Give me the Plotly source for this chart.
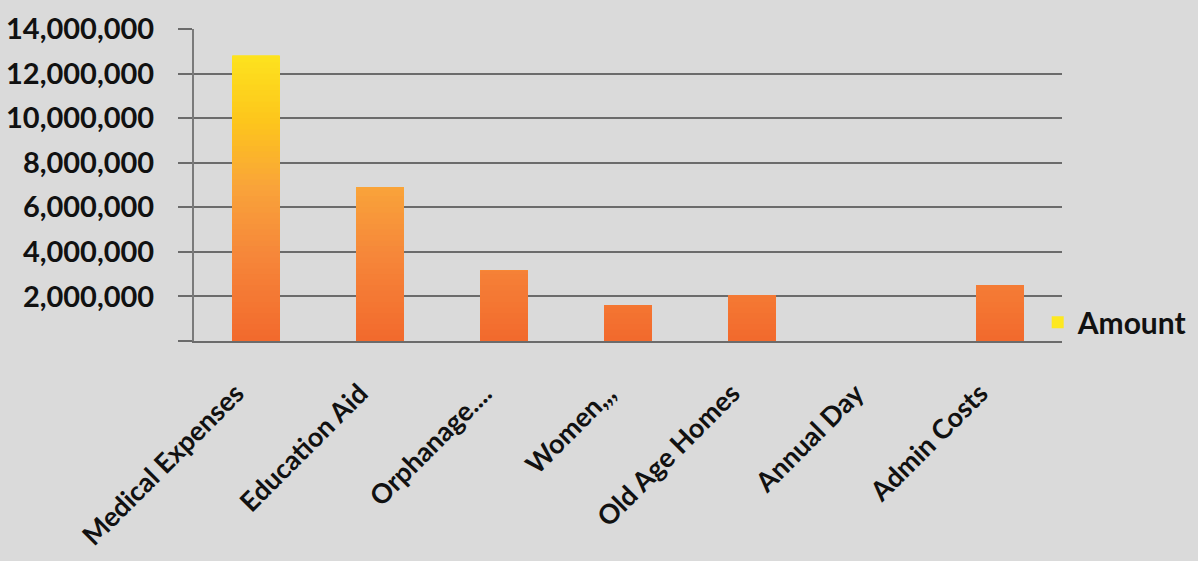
import plotly.graph_objects as go

categories = ["Medical Expenses", "Education Aid", "Orphanage....", "Women,,,",
              "Old Age Homes", "Annual Day", "Admin Costs"]
amounts = [12800000, 6900000, 3150000, 1600000, 2050000, 0, 2500000]
series_name = "Amount"
y_ticks = [0, 2000000, 4000000, 6000000, 8000000, 10000000, 12000000, 14000000]
y_tick_labels = ["", "2,000,000", "4,000,000", "6,000,000", "8,000,000",
                 "10,000,000", "12,000,000", "14,000,000"]

# vertical colour gradient (style): stop heights and colours
grad_stops = [(0, (242, 104, 44)), (4000000, (246, 135, 58)), (7000000, (249, 163, 58)),
              (10000000, (253, 198, 28)), (13000000, (253, 227, 30)), (14000000, (253, 232, 32))]
grad_step = 250000

bg = "#dadada"
font_family = "Lato, 'Open Sans', sans-serif"


def grad_color(h):
    for (h0, c0), (h1, c1) in zip(grad_stops[:-1], grad_stops[1:]):
        if h <= h1:
            f = (h - h0) / (h1 - h0) if h1 > h0 else 0
            return "rgb(%d,%d,%d)" % tuple(round(a + (b - a) * f) for a, b in zip(c0, c1))
    return "rgb(%d,%d,%d)" % grad_stops[-1][1]


fig = go.Figure()
levels = []
lv = 14000000
while lv > 0:
    levels.append(lv)
    lv -= grad_step

for i, lv in enumerate(levels):
    fig.add_trace(go.Bar(
        x=categories,
        y=[min(v, lv) for v in amounts],
        name=series_name,
        showlegend=(i == 0),
        legendgroup="amount",
        hoverinfo="skip" if i > 0 else None,
        customdata=amounts,
        hovertemplate="%{x}: %{customdata:,}<extra></extra>" if i == 0 else None,
        marker=dict(color=grad_color(lv), line=dict(width=0)),
    ))

fig.update_layout(
    width=1198,
    height=561,
    margin=dict(l=194, r=136, t=29, b=220, autoexpand=False),
    paper_bgcolor=bg,
    plot_bgcolor=bg,
    barmode="overlay",
    bargap=0.62,
    font=dict(family=font_family, color="#111111"),
    legend=dict(
        x=0.972, y=0.06, xanchor="left", yanchor="middle",
        font=dict(size=30, family=font_family, weight="bold", color="#111111"),
        bgcolor="rgba(0,0,0,0)",
        itemwidth=30,
    ),
    xaxis=dict(
        tickangle=-45,
        tickfont=dict(size=27, family=font_family, weight="bold"),
        showgrid=False,
        showline=True,
        linecolor="#6b6b6b",
        linewidth=2,
        ticks="",
        ticklabelstandoff=24,
        ticklabelshift=-20,
    ),
    yaxis=dict(
        range=[0, 14000000],
        tickvals=y_ticks,
        ticktext=y_tick_labels,
        tickfont=dict(size=29, family=font_family, weight="bold"),
        showgrid=True,
        gridcolor="#6b6b6b",
        gridwidth=1.5,
        showline=True,
        linecolor="#7a7a7a",
        linewidth=2,
        ticks="outside",
        ticklen=14,
        tickcolor="#6b6b6b",
        tickwidth=1.5,
        zeroline=False,
        ticklabelstandoff=18,
    ),
)

fig.write_html("out.html", config={"displayModeBar": False},
               post_script="document.body.style.margin='0';document.body.style.background='%s';" % bg)
